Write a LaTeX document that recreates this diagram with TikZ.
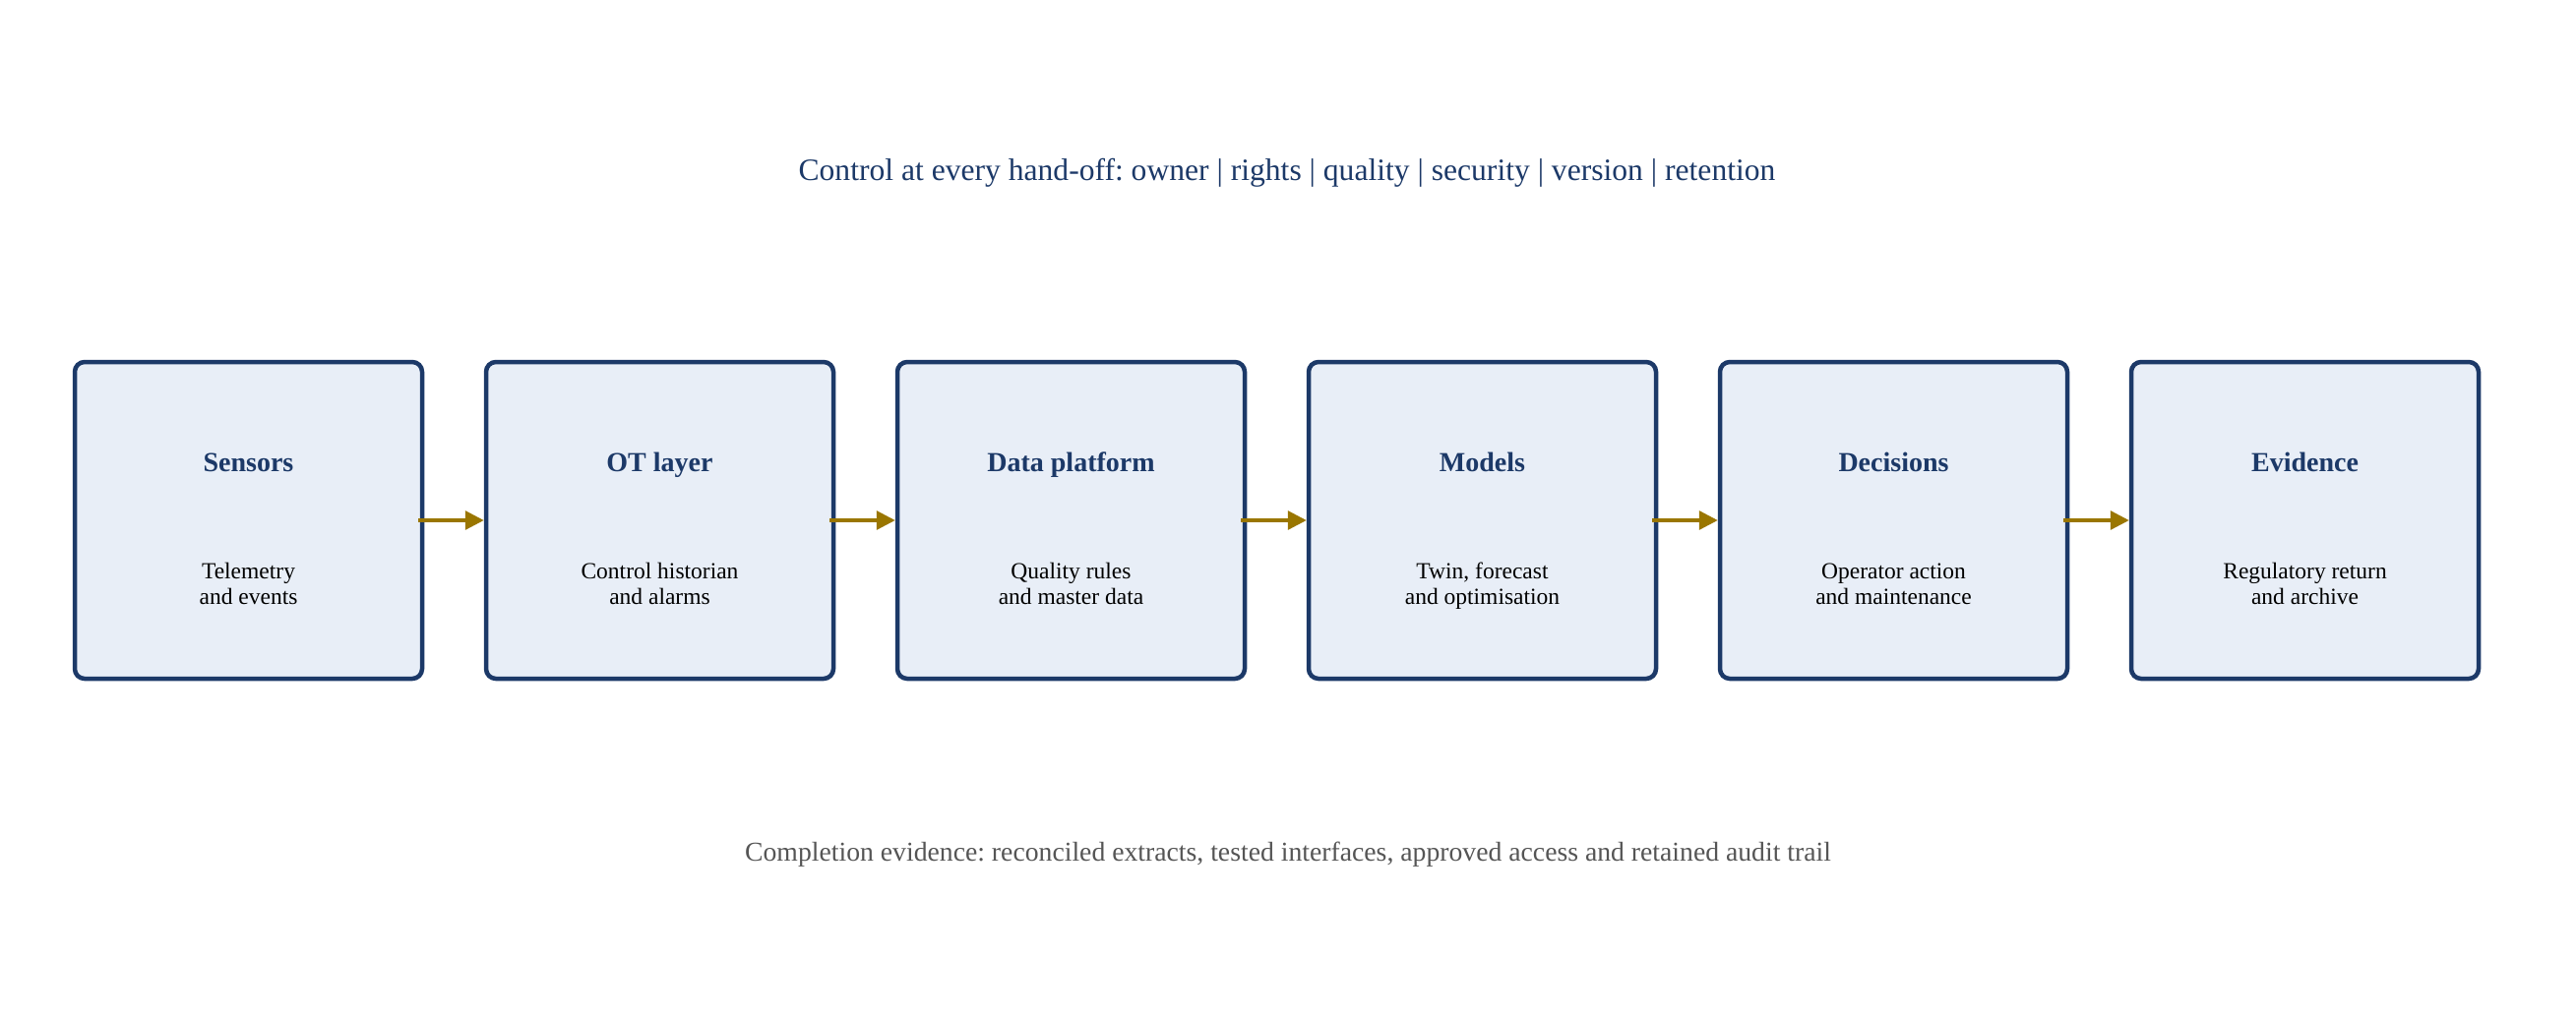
\documentclass[tikz,border=0pt]{standalone}
\usepackage{fontspec}
\setmainfont{Liberation Serif}
\usetikzlibrary{arrows.meta}
\frenchspacing
\definecolor{navy}{RGB}{28,57,104}
\definecolor{boxfill}{RGB}{232,238,247}
\definecolor{gold}{RGB}{154,118,0}
\definecolor{footgrey}{RGB}{85,85,85}
\tikzset{
  stagebox/.style={draw=navy, fill=boxfill, line width=4.5pt, rounded corners=10pt,
    minimum width=353pt, minimum height=322pt, inner sep=0pt},
  stagetitle/.style={anchor=base, text=navy, font=\fontsize{28}{32}\selectfont\bfseries},
  stagebody/.style={anchor=base, align=center, text=black, font=\fontsize{23.5}{26}\selectfont},
  flow/.style={draw=gold, line width=3.2pt, -{Triangle[length=19pt,width=19pt]}}
}
\begin{document}
\begin{tikzpicture}[x=1pt,y=-1pt]
\useasboundingbox (0,0) rectangle (2618,1034);
\node[anchor=base, text=navy, font=\fontsize{31.6}{36}\selectfont] (title) at (1308,183)
  {Control at every hand-off: owner | rights | quality | security | version | retention};
\node[anchor=base, text=footgrey, font=\fontsize{27.7}{32}\selectfont] (foot) at (1309,875)
  {Completion evidence: reconciled extracts, tested interfaces, approved access and retained audit trail};
\foreach \i/\x/\t/\a/\b in {
  1/252.5/Sensors/Telemetry/and events,
  2/670.5/OT layer/Control historian/and alarms,
  3/1088.5/Data platform/Quality rules/and master data,
  4/1506.5/Models/{Twin, forecast}/and optimisation,
  5/1924.5/Decisions/Operator action/and maintenance,
  6/2342.5/Evidence/Regulatory return/and archive}{
  \node[stagebox] (b\i) at (\x,529) {};
  \node[stagetitle] (t\i) at (\x,479) {\t};
  \node[stagebody] (d\i) at (\x,588) {\a};
  \node[stagebody] (e\i) at (\x,614) {\b};
}
\foreach \i/\j in {1/2,2/3,3/4,4/5,5/6}{
  \draw[flow] ([xshift=-6pt]b\i.east) -- (b\j.west);
}
\end{tikzpicture}
\end{document}
